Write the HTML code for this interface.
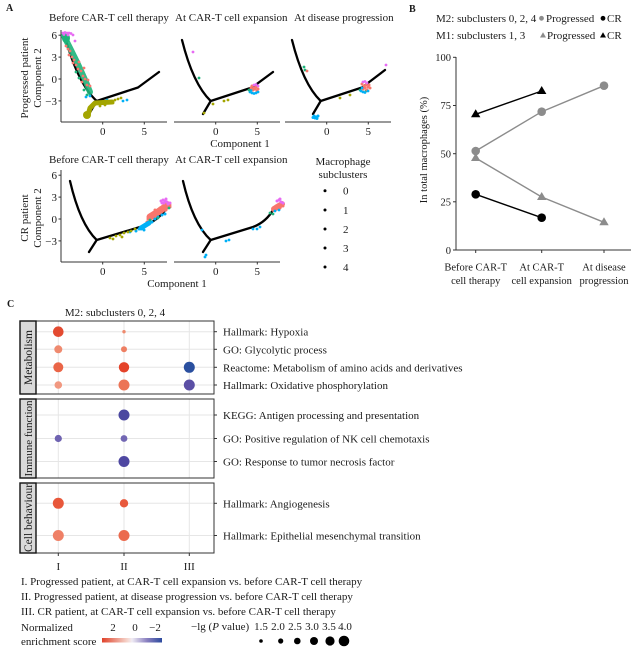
<!DOCTYPE html>
<html><head><meta charset="utf-8"><style>
html,body{margin:0;padding:0;background:#fff;}
svg{display:block;}
text{fill:#1a1a1a;}
</style></head><body>
<svg width="639" height="649" viewBox="0 0 639 649" xmlns="http://www.w3.org/2000/svg" font-family="'Liberation Serif', serif" font-size="11">
<defs>
<linearGradient id="grad" x1="0" x2="1" y1="0" y2="0">
<stop offset="0" stop-color="#e0422a"/>
<stop offset="0.42" stop-color="#f5d5cc"/>
<stop offset="0.5" stop-color="#f0ecf4"/>
<stop offset="0.75" stop-color="#8a80c0"/>
<stop offset="1" stop-color="#2c4a9e"/>
</linearGradient>
<clipPath id="s1"><rect x="20" y="321" width="16" height="73"/></clipPath>
<clipPath id="s2"><rect x="20" y="399" width="16" height="79"/></clipPath>
<clipPath id="s3"><rect x="20" y="483" width="16" height="70"/></clipPath>
</defs>

<!-- ============ PANEL A ============ -->
<text x="6" y="11" font-weight="bold" font-size="10">A</text>
<text x="49" y="21">Before CAR-T cell therapy</text>
<text x="175" y="21">At CAR-T cell expansion</text>
<text x="294" y="21">At disease progression</text>

<text transform="rotate(-90 28 78)" x="28" y="78" text-anchor="middle">Progressed  patient</text>
<text transform="rotate(-90 41 78)" x="41" y="78" text-anchor="middle">Component 2</text>

<g stroke="#333" stroke-width="1" fill="none">
<line x1="61" y1="30" x2="61" y2="122"/>
<line x1="61" y1="122" x2="167" y2="122"/>
<line x1="174" y1="122" x2="280" y2="122"/>
<line x1="285" y1="122" x2="391" y2="122"/>
<line x1="58.5" y1="35.2" x2="61" y2="35.2"/><line x1="58.5" y1="57.1" x2="61" y2="57.1"/>
<line x1="58.5" y1="79" x2="61" y2="79"/><line x1="58.5" y1="100.9" x2="61" y2="100.9"/>
<line x1="102.7" y1="122" x2="102.7" y2="124.5"/><line x1="144.3" y1="122" x2="144.3" y2="124.5"/>
<line x1="215.7" y1="122" x2="215.7" y2="124.5"/><line x1="257.3" y1="122" x2="257.3" y2="124.5"/>
<line x1="326.7" y1="122" x2="326.7" y2="124.5"/><line x1="368.3" y1="122" x2="368.3" y2="124.5"/>
</g>
<g text-anchor="end">
<text x="57" y="39">6</text><text x="57" y="61">3</text><text x="57" y="83">0</text><text x="57" y="105">−3</text>
</g>
<g text-anchor="middle">
<text x="102.7" y="135">0</text><text x="144.3" y="135">5</text>
<text x="215.7" y="135">0</text><text x="257.3" y="135">5</text>
<text x="326.7" y="135">0</text><text x="368.3" y="135">5</text>
<text x="240" y="147">Component 1</text>
</g>

<!-- top trajectories (drawn beneath points) -->
<g stroke="#000" stroke-width="2.3" fill="none" stroke-linejoin="round" stroke-linecap="round">
<path transform="translate(61,0)" d="M4,37 Q17,84 35.7,101 L28,114 M35.7,101 L77,87.5 L98,72"/>
<path transform="translate(174,0)" d="M8,40 Q19,84 36.7,101 L29,114 M36.7,101 L78,87.5 L99,72"/>
<path transform="translate(285,0)" d="M7,40 Q18,84 35.7,101 L28,114 M35.7,101 L77,87.5 L100,70"/>
</g>

<!-- top panel 1 scatter -->
<path d="M64,36 L67,42 L72,52 L77,62 L82,73 L86,82 L90,92" stroke="#1db47a" stroke-width="6" stroke-linecap="round" fill="none" opacity="0.9"/>
<ellipse cx="66" cy="38" rx="4" ry="5" fill="#1db47a"/>
<g fill="#E76BF3">
<circle cx="63" cy="33" r="1.4"/><circle cx="65" cy="32.5" r="1.4"/><circle cx="67" cy="33" r="1.4"/><circle cx="69" cy="33" r="1.4"/><circle cx="71" cy="33.5" r="1.4"/><circle cx="64" cy="34.5" r="1.4"/><circle cx="68" cy="35" r="1.4"/><circle cx="73" cy="35" r="1.4"/><circle cx="75" cy="41" r="1.4"/>
</g>
<g fill="#F8766D">
<circle cx="66" cy="46" r="1.4"/><circle cx="68" cy="49" r="1.4"/><circle cx="70" cy="51" r="1.4"/><circle cx="69" cy="55" r="1.4"/><circle cx="72" cy="57" r="1.4"/><circle cx="74" cy="60" r="1.4"/><circle cx="73" cy="63" r="1.4"/><circle cx="76" cy="65" r="1.4"/><circle cx="78" cy="69" r="1.4"/><circle cx="81" cy="71" r="1.4"/><circle cx="83" cy="76" r="1.4"/><circle cx="85" cy="79" r="1.4"/><circle cx="82" cy="82" r="1.4"/><circle cx="87" cy="85" r="1.4"/><circle cx="79" cy="62" r="1.4"/><circle cx="84" cy="68" r="1.4"/><circle cx="88" cy="80" r="1.4"/><circle cx="90" cy="86" r="1.4"/>
</g>
<g fill="#1db47a">
<circle cx="79" cy="78" r="1.4"/><circle cx="84" cy="90" r="1.4"/><circle cx="87" cy="95" r="1.4"/><circle cx="76" cy="72" r="1.4"/>
</g>
<g fill="#00B0F6">
<circle cx="90" cy="96" r="1.4"/><circle cx="86" cy="97" r="1.4"/><circle cx="123" cy="101" r="1.4"/><circle cx="107" cy="100" r="1.4"/><circle cx="127" cy="100" r="1.4"/>
</g>
<path d="M88,115 L90,108 L95,103 L112,102" stroke="#A3A500" stroke-width="5" stroke-linecap="round" stroke-linejoin="round" fill="none"/>
<ellipse cx="87" cy="115" rx="4" ry="4" fill="#A3A500"/>
<g fill="#A3A500">
<circle cx="115" cy="100" r="1.4"/><circle cx="118" cy="99" r="1.4"/><circle cx="121" cy="98" r="1.4"/><circle cx="113" cy="103" r="1.4"/><circle cx="100" cy="106" r="1.4"/><circle cx="105" cy="105" r="1.4"/>
</g>

<!-- top panel 2 scatter -->
<circle cx="193" cy="52" r="1.4" fill="#E76BF3"/>
<circle cx="199" cy="78" r="1.4" fill="#1db47a"/>
<g fill="#A3A500"><circle cx="204" cy="113" r="1.4"/><circle cx="213" cy="104" r="1.4"/><circle cx="224" cy="101" r="1.4"/><circle cx="228" cy="100" r="1.4"/></g>
<g fill="#F8766D"><circle cx="252" cy="86" r="1.5"/><circle cx="254" cy="88" r="1.5"/><circle cx="256" cy="87" r="1.5"/><circle cx="258" cy="89" r="1.5"/><circle cx="253" cy="90" r="1.5"/><circle cx="257" cy="91" r="1.5"/><circle cx="255" cy="89" r="1.5"/><circle cx="251" cy="88" r="1.5"/></g>
<g fill="#E76BF3"><circle cx="254" cy="85" r="1.4"/><circle cx="256" cy="84.5" r="1.4"/><circle cx="258" cy="86" r="1.4"/></g>
<g fill="#00B0F6"><circle cx="250" cy="92" r="1.4"/><circle cx="252" cy="93" r="1.4"/><circle cx="254" cy="93.5" r="1.4"/><circle cx="256" cy="93" r="1.4"/><circle cx="258" cy="92" r="1.4"/><circle cx="251" cy="90.5" r="1.4"/></g>
<circle cx="249" cy="90" r="1.4" fill="#1db47a"/>

<!-- top panel 3 scatter -->
<g fill="#1db47a"><circle cx="304" cy="67" r="1.4"/><circle cx="305" cy="70" r="1.4"/><circle cx="360" cy="90" r="1.4"/><circle cx="366" cy="91" r="1.4"/></g>
<circle cx="307" cy="71" r="1.4" fill="#F8766D"/>
<g fill="#00B0F6"><circle cx="314" cy="116" r="1.5"/><circle cx="316" cy="117" r="1.5"/><circle cx="318" cy="116" r="1.5"/><circle cx="315" cy="118" r="1.5"/><circle cx="317" cy="118.5" r="1.5"/><circle cx="313" cy="117.5" r="1.5"/></g>
<g fill="#A3A500"><circle cx="340" cy="98" r="1.4"/><circle cx="350" cy="95" r="1.4"/></g>
<g fill="#F8766D"><circle cx="362" cy="84" r="1.5"/><circle cx="364" cy="86" r="1.5"/><circle cx="366" cy="85" r="1.5"/><circle cx="368" cy="87" r="1.5"/><circle cx="365" cy="88" r="1.5"/><circle cx="367" cy="90" r="1.5"/><circle cx="363" cy="89" r="1.5"/><circle cx="369" cy="85" r="1.5"/><circle cx="370" cy="88" r="1.5"/></g>
<g fill="#E76BF3"><circle cx="363" cy="82" r="1.4"/><circle cx="365" cy="81.5" r="1.4"/><circle cx="367" cy="83" r="1.4"/><circle cx="386" cy="65" r="1.4"/></g>
<g fill="#00B0F6"><circle cx="361" cy="91" r="1.4"/><circle cx="363" cy="92" r="1.4"/><circle cx="365" cy="92.5" r="1.4"/><circle cx="368" cy="91" r="1.4"/><circle cx="362" cy="88" r="1.4"/></g>

<!-- bottom row -->
<text x="49" y="163">Before CAR-T cell therapy</text>
<text x="175" y="163">At CAR-T cell expansion</text>
<text transform="rotate(-90 28 218)" x="28" y="218" text-anchor="middle">CR  patient</text>
<text transform="rotate(-90 41 218)" x="41" y="218" text-anchor="middle">Component 2</text>
<g stroke="#333" stroke-width="1" fill="none">
<line x1="61" y1="170" x2="61" y2="262"/>
<line x1="61" y1="262" x2="167" y2="262"/>
<line x1="174" y1="262" x2="280" y2="262"/>
<line x1="58.5" y1="175.2" x2="61" y2="175.2"/><line x1="58.5" y1="197.1" x2="61" y2="197.1"/>
<line x1="58.5" y1="219" x2="61" y2="219"/><line x1="58.5" y1="240.9" x2="61" y2="240.9"/>
<line x1="102.7" y1="262" x2="102.7" y2="264.5"/><line x1="144.3" y1="262" x2="144.3" y2="264.5"/>
<line x1="215.7" y1="262" x2="215.7" y2="264.5"/><line x1="257.3" y1="262" x2="257.3" y2="264.5"/>
</g>
<g text-anchor="end">
<text x="57" y="179">6</text><text x="57" y="201">3</text><text x="57" y="223">0</text><text x="57" y="245">−3</text>
</g>
<g text-anchor="middle">
<text x="102.7" y="275">0</text><text x="144.3" y="275">5</text>
<text x="215.7" y="275">0</text><text x="257.3" y="275">5</text>
<text x="177" y="287">Component 1</text>
</g>

<g stroke="#000" stroke-width="2.3" fill="none" stroke-linejoin="round" stroke-linecap="round">
<path transform="translate(61,140)" d="M9,41 Q19,84 35.7,100 L28,112 M35.7,100 L79,87 Q97,82 107,66"/>
<path transform="translate(174,140)" d="M9,41 Q19,84 36.7,100 L29,112 M36.7,100 L79,87 Q92,82 99,70"/>
</g>

<!-- bottom panel 1 scatter -->
<path d="M150,217 L158,212 L168,205" stroke="#F8766D" stroke-width="7" stroke-linecap="round" fill="none"/>
<g fill="#F8766D"><circle cx="148" cy="219" r="1.5"/><circle cx="153" cy="214" r="1.5"/><circle cx="160" cy="208" r="1.5"/><circle cx="170" cy="207" r="1.5"/><circle cx="166" cy="210" r="1.5"/><circle cx="155" cy="210" r="1.5"/><circle cx="147" cy="222" r="1.5"/></g>
<g fill="#E76BF3"><circle cx="161" cy="201" r="1.5"/><circle cx="163" cy="200" r="1.5"/><circle cx="165" cy="201" r="1.5"/><circle cx="167" cy="202" r="1.5"/><circle cx="164" cy="203" r="1.5"/><circle cx="162" cy="203" r="1.5"/><circle cx="166" cy="199" r="1.5"/><circle cx="168" cy="204" r="1.5"/><circle cx="170" cy="203" r="1.5"/></g>
<path d="M141,228 L149,223" stroke="#00B0F6" stroke-width="5" stroke-linecap="round" fill="none"/>
<g fill="#00B0F6"><circle cx="155" cy="219" r="1.5"/><circle cx="158" cy="217" r="1.5"/><circle cx="162" cy="215" r="1.5"/><circle cx="165" cy="214" r="1.5"/><circle cx="144" cy="230" r="1.5"/><circle cx="139" cy="229" r="1.5"/><circle cx="136" cy="231" r="1.5"/><circle cx="152" cy="222" r="1.5"/><circle cx="130" cy="232" r="1.4"/></g>
<g fill="#A3A500"><circle cx="116" cy="236" r="1.4"/><circle cx="120" cy="235" r="1.4"/><circle cx="124" cy="233" r="1.4"/><circle cx="128" cy="232" r="1.4"/><circle cx="131" cy="231" r="1.4"/><circle cx="110" cy="238" r="1.4"/><circle cx="135" cy="229" r="1.4"/><circle cx="122" cy="237" r="1.4"/><circle cx="113" cy="239" r="1.4"/></g>
<g fill="#1db47a"><circle cx="150" cy="220" r="1.4"/><circle cx="158" cy="218" r="1.4"/><circle cx="169" cy="208" r="1.4"/></g>

<!-- bottom panel 2 scatter -->
<path d="M274,209 L282,204" stroke="#F8766D" stroke-width="6" stroke-linecap="round" fill="none"/>
<g fill="#F8766D"><circle cx="276" cy="206" r="1.5"/><circle cx="280" cy="208" r="1.5"/><circle cx="283" cy="206" r="1.5"/></g>
<g fill="#E76BF3"><circle cx="277" cy="201" r="1.5"/><circle cx="279" cy="200" r="1.5"/><circle cx="281" cy="202" r="1.5"/><circle cx="280" cy="199" r="1.5"/><circle cx="283" cy="203" r="1.5"/></g>
<g fill="#1db47a"><circle cx="270" cy="213" r="1.4"/><circle cx="273" cy="214" r="1.4"/></g>
<g fill="#00B0F6"><circle cx="202" cy="230" r="1.4"/><circle cx="229" cy="240" r="1.4"/><circle cx="226" cy="241" r="1.4"/><circle cx="257" cy="229" r="1.4"/><circle cx="260" cy="227" r="1.4"/><circle cx="253" cy="229" r="1.4"/><circle cx="206" cy="255" r="1.4"/><circle cx="205" cy="257" r="1.4"/><circle cx="275" cy="211" r="1.4"/><circle cx="279" cy="210" r="1.4"/></g>

<!-- subcluster legend -->
<g text-anchor="middle">
<text x="343" y="165">Macrophage</text>
<text x="343" y="178">subclusters</text>
</g>
<g fill="#000">
<circle cx="325" cy="190.7" r="1.5"/><circle cx="325" cy="210" r="1.5"/><circle cx="325" cy="229" r="1.5"/><circle cx="325" cy="248" r="1.5"/><circle cx="325" cy="267" r="1.5"/>
</g>
<text x="343" y="194.7">0</text><text x="343" y="214">1</text><text x="343" y="233">2</text><text x="343" y="252">3</text><text x="343" y="271">4</text>

<!-- ============ PANEL B ============ -->
<text x="409" y="12" font-weight="bold" font-size="10">B</text>
<text x="436" y="22">M2: subclusters 0, 2, 4</text>
<circle cx="541.5" cy="18.3" r="2.4" fill="#8c8c8c"/>
<text x="546" y="22">Progressed</text>
<circle cx="603" cy="18.3" r="2.4" fill="#000"/>
<text x="607" y="22">CR</text>
<text x="436" y="39">M1: subclusters 1, 3</text>
<polygon points="543,32.3 540,37.5 546,37.5" fill="#8c8c8c"/>
<text x="547" y="39">Progressed</text>
<polygon points="603,32.3 600,37.5 606,37.5" fill="#000"/>
<text x="607" y="39">CR</text>

<g font-size="10.5">
<g stroke="#333" stroke-width="1" fill="none">
<line x1="456" y1="57" x2="456" y2="250"/>
<line x1="456" y1="250" x2="631" y2="250"/>
<line x1="453" y1="57.3" x2="456" y2="57.3"/><line x1="453" y1="105.5" x2="456" y2="105.5"/>
<line x1="453" y1="153.7" x2="456" y2="153.7"/><line x1="453" y1="201.8" x2="456" y2="201.8"/>
<line x1="453" y1="250" x2="456" y2="250"/>
<line x1="475.7" y1="250" x2="475.7" y2="253"/><line x1="541.7" y1="250" x2="541.7" y2="253"/><line x1="604" y1="250" x2="604" y2="253"/>
</g>
<g text-anchor="end">
<text x="451" y="61">100</text><text x="451" y="109">75</text><text x="451" y="157.5">50</text><text x="451" y="205.5">25</text><text x="451" y="254">0</text>
</g>
<g text-anchor="middle">
<text x="475.7" y="270.5">Before CAR-T</text><text x="475.7" y="284">cell therapy</text>
<text x="541.7" y="270.5">At CAR-T</text><text x="541.7" y="284">cell expansion</text>
<text x="604" y="270.5">At disease</text><text x="604" y="284">progression</text>
</g>
<text transform="rotate(-90 427 150)" x="427" y="150" text-anchor="middle">In total macrophages (%)</text>
</g>

<g fill="none" stroke-width="1.4">
<polyline points="475.7,151 541.7,111.7 604,85.7" stroke="#8c8c8c"/>
<polyline points="475.7,158 541.7,197 604,222.3" stroke="#8c8c8c"/>
<polyline points="475.7,194.3 541.7,217.7" stroke="#000"/>
<polyline points="475.7,114.3 541.7,91" stroke="#000"/>
</g>
<g fill="#8c8c8c">
<circle cx="475.7" cy="151" r="4.3"/><circle cx="541.7" cy="111.7" r="4.3"/><circle cx="604" cy="85.7" r="4.3"/>
<polygon points="475.7,153 471,161 480.4,161"/><polygon points="541.7,192 537,200 546.4,200"/><polygon points="604,217.3 599.3,225.3 608.7,225.3"/>
</g>
<g fill="#000">
<circle cx="475.7" cy="194.3" r="4.3"/><circle cx="541.7" cy="217.7" r="4.3"/>
<polygon points="475.7,109.3 471,117.3 480.4,117.3"/><polygon points="541.7,86 537,94 546.4,94"/>
</g>

<!-- ============ PANEL C ============ -->
<text x="7" y="307" font-weight="bold" font-size="10">C</text>
<text x="115" y="316" text-anchor="middle">M2: subclusters 0, 2, 4</text>

<g stroke="#e6e6e6" stroke-width="1">
<line x1="58.3" y1="321" x2="58.3" y2="394"/><line x1="124" y1="321" x2="124" y2="394"/><line x1="189.3" y1="321" x2="189.3" y2="394"/>
<line x1="58.3" y1="399" x2="58.3" y2="478"/><line x1="124" y1="399" x2="124" y2="478"/><line x1="189.3" y1="399" x2="189.3" y2="478"/>
<line x1="58.3" y1="483" x2="58.3" y2="553"/><line x1="124" y1="483" x2="124" y2="553"/><line x1="189.3" y1="483" x2="189.3" y2="553"/>
<line x1="36" y1="331.7" x2="214" y2="331.7"/><line x1="36" y1="349.3" x2="214" y2="349.3"/><line x1="36" y1="367.3" x2="214" y2="367.3"/><line x1="36" y1="385" x2="214" y2="385"/>
<line x1="36" y1="415" x2="214" y2="415"/><line x1="36" y1="438.5" x2="214" y2="438.5"/><line x1="36" y1="461.5" x2="214" y2="461.5"/>
<line x1="36" y1="503.3" x2="214" y2="503.3"/><line x1="36" y1="535.5" x2="214" y2="535.5"/>
</g>

<circle cx="58.3" cy="331.7" r="5.3" fill="#e34a30"/>
<circle cx="124" cy="331.7" r="1.7" fill="#ee8a6e"/>
<circle cx="58.3" cy="349.3" r="4" fill="#ef8a6f"/>
<circle cx="124" cy="349.3" r="3" fill="#ee7f63"/>
<circle cx="58.3" cy="367.3" r="5" fill="#ea6547"/>
<circle cx="124" cy="367.3" r="5.2" fill="#e4432a"/>
<circle cx="189.3" cy="367.3" r="5.5" fill="#2a4f9f"/>
<circle cx="58.3" cy="385" r="3.8" fill="#f19880"/>
<circle cx="124" cy="385" r="5.5" fill="#ec7456"/>
<circle cx="189.3" cy="385" r="5.5" fill="#5b4fa5"/>
<circle cx="124" cy="415" r="5.5" fill="#4b47a0"/>
<circle cx="58.3" cy="438.5" r="3.6" fill="#6f63b1"/>
<circle cx="124" cy="438.5" r="3.4" fill="#7267b3"/>
<circle cx="124" cy="461.5" r="5.5" fill="#4e47a1"/>
<circle cx="58.3" cy="503.3" r="5.5" fill="#e8573a"/>
<circle cx="124" cy="503.3" r="4.2" fill="#e8593c"/>
<circle cx="58.3" cy="535.5" r="5.5" fill="#ef8066"/>
<circle cx="124" cy="535.5" r="5.5" fill="#eb6a4e"/>

<g fill="none" stroke="#333" stroke-width="1">
<rect x="36" y="321" width="178" height="73"/>
<rect x="36" y="399" width="178" height="79"/>
<rect x="36" y="483" width="178" height="70"/>
</g>
<g fill="#d9d9d9" stroke="#111" stroke-width="1.4">
<rect x="20" y="321" width="16" height="73"/>
<rect x="20" y="399" width="16" height="79"/>
<rect x="20" y="483" width="16" height="70"/>
</g>
<g clip-path="url(#s1)"><text transform="rotate(-90 31.8 357.5)" x="31.8" y="357.5" text-anchor="middle" font-size="11.5">Metabolism</text></g>
<g clip-path="url(#s2)"><text transform="rotate(-90 31.8 438.5)" x="31.8" y="438.5" text-anchor="middle" font-size="11">Immune function</text></g>
<g clip-path="url(#s3)"><text transform="rotate(-90 31.8 518)" x="31.8" y="518" text-anchor="middle" font-size="11.5">Cell behaviour</text></g>

<g stroke="#333" stroke-width="1">
<line x1="214" y1="331.7" x2="217" y2="331.7"/><line x1="214" y1="349.3" x2="217" y2="349.3"/><line x1="214" y1="367.3" x2="217" y2="367.3"/><line x1="214" y1="385" x2="217" y2="385"/>
<line x1="214" y1="415" x2="217" y2="415"/><line x1="214" y1="438.5" x2="217" y2="438.5"/><line x1="214" y1="461.5" x2="217" y2="461.5"/>
<line x1="214" y1="503.3" x2="217" y2="503.3"/><line x1="214" y1="535.5" x2="217" y2="535.5"/>
<line x1="58.3" y1="553" x2="58.3" y2="556"/><line x1="124" y1="553" x2="124" y2="556"/><line x1="189.3" y1="553" x2="189.3" y2="556"/>
</g>
<g>
<text x="223" y="335.7">Hallmark: Hypoxia</text>
<text x="223" y="353.3">GO: Glycolytic process</text>
<text x="223" y="371.3">Reactome: Metabolism of amino acids and derivatives</text>
<text x="223" y="389">Hallmark: Oxidative phosphorylation</text>
<text x="223" y="419">KEGG: Antigen processing and presentation</text>
<text x="223" y="442.5">GO: Positive regulation of NK cell chemotaxis</text>
<text x="223" y="465.5">GO: Response to tumor necrosis factor</text>
<text x="223" y="507.3">Hallmark: Angiogenesis</text>
<text x="223" y="539.5">Hallmark: Epithelial mesenchymal transition</text>
</g>
<g text-anchor="middle">
<text x="58.3" y="570">I</text><text x="124" y="570">II</text><text x="189.3" y="570">III</text>
</g>

<text x="21" y="585">I. Progressed patient, at CAR-T cell expansion vs. before CAR-T cell therapy</text>
<text x="21" y="600">II. Progressed patient, at disease progression vs. before CAR-T cell therapy</text>
<text x="21" y="615">III. CR patient, at CAR-T cell expansion vs. before CAR-T cell therapy</text>

<text x="21" y="631">Normalized</text>
<text x="21" y="645">enrichment score</text>
<g text-anchor="middle">
<text x="113" y="631">2</text><text x="135" y="631">0</text><text x="155" y="631">−2</text>
</g>
<rect x="102" y="638" width="60" height="4.5" fill="url(#grad)"/>

<text x="191" y="630">−lg (<tspan font-style="italic">P</tspan> value)</text>
<g text-anchor="middle">
<text x="261" y="630">1.5</text><text x="278" y="630">2.0</text><text x="295" y="630">2.5</text><text x="312" y="630">3.0</text><text x="329" y="630">3.5</text><text x="345" y="630">4.0</text>
</g>
<g fill="#000">
<circle cx="261" cy="641" r="1.8"/><circle cx="280.7" cy="641" r="2.6"/><circle cx="297.3" cy="641" r="3.3"/><circle cx="314" cy="641" r="4"/><circle cx="330" cy="641" r="4.6"/><circle cx="344" cy="641" r="5.3"/>
</g>
</svg>
</body></html>
